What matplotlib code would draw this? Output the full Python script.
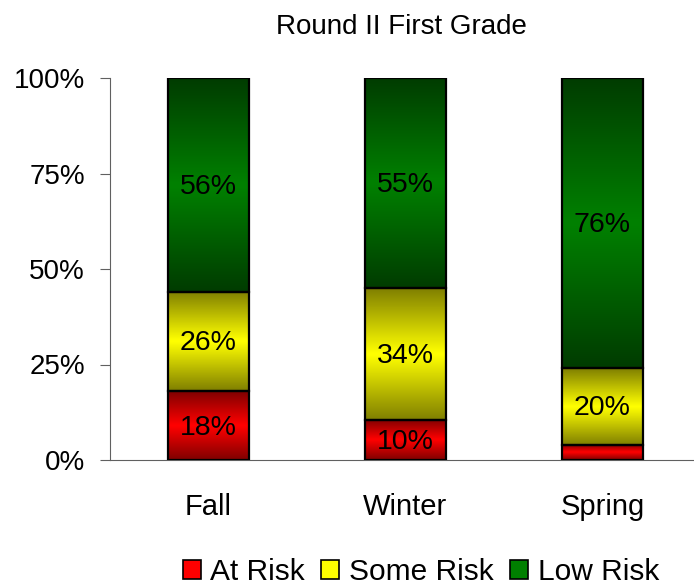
import numpy as np
import matplotlib
matplotlib.use("Agg")
import matplotlib.pyplot as plt
from matplotlib.colors import LinearSegmentedColormap
from matplotlib.patches import Patch

plt.rcParams['font.family'] = ['Liberation Sans', 'DejaVu Sans']

categories = ["Fall", "Winter", "Spring"]
series_names = ["At Risk", "Some Risk", "Low Risk"]
at_risk = [18, 10.5, 4]
some_risk = [26, 34.5, 20]
low_risk = [56, 55, 76]
label_at_risk = ["18%", "10%", ""]
label_some_risk = ["26%", "34%", "20%"]
label_low_risk = ["56%", "55%", "76%"]
yticks = [0, 25, 50, 75, 100]
ytick_labels = ["0%", "25%", "50%", "75%", "100%"]
title = "Round II First Grade"

edge_colors = ["#800000", "#808000", "#003c00"]
mid_colors = ["#ff0000", "#ffff00", "#008000"]

FS = 20

fig = plt.figure(figsize=(6.94, 5.86), dpi=100)
ax = fig.add_axes([110/694, 1-460/586, 591/694, 382/586])

x = np.arange(len(categories))
width = 0.41
series = [at_risk, some_risk, low_risk]
labels = [label_at_risk, label_some_risk, label_low_risk]

grad = np.concatenate([np.linspace(0, 1, 50), np.linspace(1, 0, 50)]).reshape(-1, 1)

bottom = np.zeros(len(categories))
for s, vals in enumerate(series):
    cmap = LinearSegmentedColormap.from_list("c%d" % s, [edge_colors[s], mid_colors[s]])
    vals = np.array(vals, dtype=float)
    bars = ax.bar(x, vals, width, bottom=bottom, facecolor="none",
                  edgecolor="black", linewidth=1.6, zorder=3)
    for i, b in enumerate(bars):
        ax.imshow(grad, cmap=cmap, aspect="auto", zorder=2,
                  extent=[b.get_x(), b.get_x() + b.get_width(),
                          b.get_y(), b.get_y() + b.get_height()],
                  interpolation="bicubic")
        if labels[s][i]:
            ax.text(b.get_x() + b.get_width()/2, b.get_y() + b.get_height()/2 - 0.5,
                    labels[s][i], ha="center", va="center", fontsize=20.5, zorder=4)
    bottom = bottom + vals

ax.set_xlim(-0.5, 2.5)
ax.set_ylim(0, 100)
ax.set_yticks(yticks)
ax.set_yticklabels(ytick_labels, fontsize=FS)
ax.set_xticks(x)
ax.set_xticklabels(categories, fontsize=21)
ax.tick_params(axis="x", length=0, pad=24)
ax.tick_params(axis="y", length=7, direction="out", color="#606060", pad=11)
for sp in ["top", "right"]:
    ax.spines[sp].set_visible(False)
ax.spines["left"].set_color("#606060")
ax.spines["bottom"].set_color("#606060")

fig.text(401/694, 1-34/586, title, ha="center", va="baseline", fontsize=FS)

handles = [Patch(facecolor=mid_colors[k], edgecolor="black", linewidth=1.2) for k in range(3)]
fig.legend(handles, series_names, loc="center", bbox_to_anchor=(421/694, 1-572/586),
           ncol=3, frameon=False, fontsize=21.5, handlelength=0.6, handleheight=0.6,
           handletextpad=0.33, columnspacing=0.55, borderaxespad=0, borderpad=0)

fig.savefig("out.png", dpi=100)
